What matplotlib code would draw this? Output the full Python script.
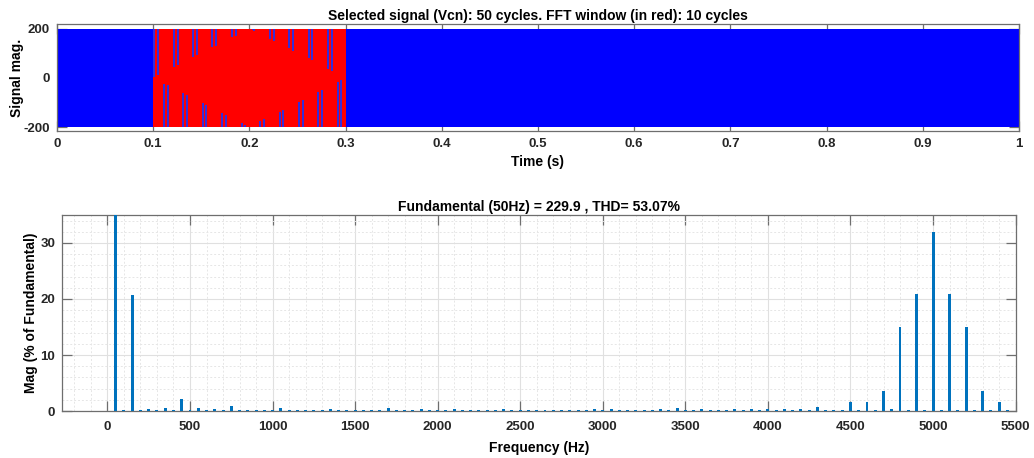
import matplotlib.pyplot as plt
import numpy as np

plt.rcParams['font.family'] = ['Liberation Sans', 'DejaVu Sans']
plt.rcParams['font.weight'] = 'bold'
plt.rcParams['axes.labelweight'] = 'bold'
plt.rcParams['axes.titleweight'] = 'bold'
plt.rcParams['axes.unicode_minus'] = False

# --- signal (top) ---
sig_t = [0.0, 1.0]
sig_hi = [200, 200]
sig_lo = [-200, -200]
win_t = [0.1, 0.3]

# blue gaps seen inside the red FFT window
gap_up_t = [0.1010, 0.1052, 0.1215, 0.1253, 0.1415, 0.1457, 0.1616, 0.1654,
            0.1820, 0.1858, 0.2035, 0.2050, 0.2215, 0.2253, 0.2415, 0.2453,
            0.2623, 0.2654, 0.2820, 0.2858]
gap_up_v = [5, 12, 46, 53, 87, 94, 125, 132, 166, 173, 196, 193,
            159, 152, 121, 112, 80, 72, 37, 30]
gap_lo_t = [0.1111, 0.1149, 0.1315, 0.1353, 0.1516, 0.1554, 0.1716, 0.1754,
            0.1920, 0.1952, 0.2114, 0.2152, 0.2315, 0.2353, 0.2519, 0.2557,
            0.2716, 0.2754, 0.2920, 0.2955]
gap_lo_v = [-23, -30, -63, -71, -103, -110, -143, -150, -185, -190,
            -177, -169, -137, -131, -97, -88, -56, -49, -16, -10]

# --- spectrum (bottom), harmonics 0..109 of 50 Hz ---
freqs = np.arange(0, 5500, 50)
mags = [0, 100, 0.1, 20.8, 0.1, 0.36, 0.1, 0.5, 0.12, 2.15,
        0.1, 0.5, 0.1, 0.35, 0.15, 0.85, 0.12, 0.2, 0.12, 0.18,
        0.1, 0.5, 0.1, 0.1, 0.12, 0.25, 0.25, 0.35, 0.2, 0.2,
        0.2, 0.1, 0.25, 0.25, 0.5, 0.1, 0.2, 0.1, 0.3, 0.2,
        0.2, 0.2, 0.35, 0.1, 0.15, 0.15, 0.18, 0.18, 0.3, 0.2,
        0.2, 0.25, 0.15, 0.25, 0.15, 0.15, 0.15, 0.2, 0.15, 0.4,
        0.1, 0.3, 0.2, 0.15, 0.1, 0.15, 0.15, 0.4, 0.25, 0.45,
        0.1, 0.15, 0.35, 0.15, 0.15, 0.15, 0.3, 0.2, 0.3, 0.2,
        0.3, 0.15, 0.3, 0.1, 0.35, 0.1, 0.75, 0.15, 0.1, 0.1,
        1.55, 0.1, 1.6, 0.1, 3.5, 0.3, 15.0, 0.1, 20.9, 0.1,
        31.9, 0.1, 20.9, 0.1, 15.0, 0.2, 3.5, 0.1, 1.6, 0.15]

top_title = 'Selected signal (Vcn): 50 cycles. FFT window (in red): 10 cycles'
bot_title = 'Fundamental (50Hz) = 229.9 , THD= 53.07%'

spine_col = '#6e6e6e'

fig = plt.figure(figsize=(10.34, 4.58), dpi=100)
ax1 = fig.add_axes([0.0551, 0.714, 0.9304, 0.2336])
ax2 = fig.add_axes([0.0600, 0.1026, 0.9222, 0.428])

# top plot
ax1.fill_between(sig_t, sig_lo, sig_hi, color='#0000ff', lw=0)
ax1.fill_between(win_t, sig_lo[:2], sig_hi[:2], color='#ff0000', lw=0)
ax1.vlines(gap_up_t, gap_up_v, 200, color='#3030e0', lw=1.4)
ax1.vlines(gap_lo_t, -200, gap_lo_v, color='#3030e0', lw=1.4)
ax1.set_xlim(0, 1)
ax1.set_ylim(-216, 220)
ax1.set_xticks(np.arange(0, 1.01, 0.1))
ax1.set_xticklabels(['0', '0.1', '0.2', '0.3', '0.4', '0.5', '0.6', '0.7', '0.8', '0.9', '1'])
ax1.set_yticks([-200, 0, 200])
ax1.set_title(top_title, fontsize=10, pad=3)
ax1.set_xlabel('Time (s)', fontsize=10, labelpad=4)
ax1.set_ylabel('Signal mag.', fontsize=10, labelpad=-0.5)
ax1.set_axisbelow(True)

# bottom plot
ax2.bar(freqs, mags, width=18, color='#0072BD', lw=0, zorder=3)
ax2.set_xlim(-275, 5500)
ax2.set_ylim(0, 35)
ax2.set_xticks(np.arange(0, 5501, 500))
ax2.set_yticks([0, 10, 20, 30])
ax2.set_xticks(np.arange(-200, 5501, 100), minor=True)
ax2.set_yticks(np.arange(0, 35.1, 2), minor=True)
ax2.grid(True, which='major', color='#e0e0e0', lw=0.8)
ax2.grid(True, which='minor', color='#e6e6e6', lw=0.7, ls=(0, (2, 2)))
ax2.set_title(bot_title, fontsize=10, pad=3)
ax2.set_xlabel('Frequency (Hz)', fontsize=10, labelpad=6)
ax2.set_ylabel('Mag (% of Fundamental)', fontsize=10, labelpad=1.5)
ax2.set_axisbelow(True)

for ax in (ax1, ax2):
    for s in ax.spines.values():
        s.set_color(spine_col)
        s.set_linewidth(0.9)
    ax.tick_params(which='major', direction='in', length=7, width=0.9, color=spine_col,
                   top=True, right=True, labelsize=9.5, pad=5)
    ax.tick_params(which='minor', length=0, top=True, right=True)
    for lbl in ax.get_xticklabels() + ax.get_yticklabels():
        lbl.set_fontweight('bold')
        lbl.set_color('#262626')
ax2.tick_params(axis='x', which='major', pad=7)

fig.savefig('out.png', dpi=100)
